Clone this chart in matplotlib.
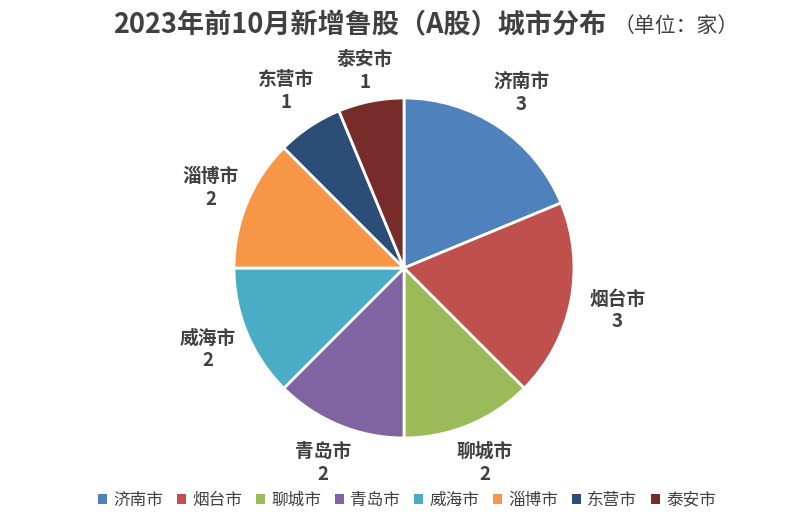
import matplotlib
matplotlib.use("Agg")
import numpy as np
import matplotlib.pyplot as plt
from matplotlib.patches import Patch

plt.rcParams['font.family'] = ['Noto Sans CJK SC', 'DejaVu Sans']

cities = ["济南市", "烟台市", "聊城市", "青岛市", "威海市", "淄博市", "东营市", "泰安市"]
counts = [3, 3, 2, 2, 2, 2, 1, 1]
colors = ["#4F81BD", "#C0504D", "#9BBB59", "#8064A2", "#4BACC6", "#F79646", "#2C4D75", "#772C2A"]
title_main = "2023年前10月新增鲁股（A股）城市分布"
title_unit = "（单位：家）"

label_dist = [1.24, 1.28, 1.24, 1.24, 1.25, 1.23, 1.25, 1.18]

W, H = 811, 529
fig = plt.figure(figsize=(W / 100, H / 100), dpi=100)
cx, cy, r = 404, 268, 170
ax = fig.add_axes([(cx - r) / W, (H - cy - r) / H, 2 * r / W, 2 * r / H])
labels = [f"{c}\n{v}" for c, v in zip(cities, counts)]
wedges, texts = ax.pie(counts, colors=colors, startangle=90, counterclock=False,
                       labels=labels, labeldistance=1.25,
                       wedgeprops=dict(edgecolor="white", linewidth=2),
                       textprops=dict(fontsize=13.5, fontweight="bold", color="#404040",
                                      ha="center", va="center", linespacing=1.25))
for w, t, d in zip(wedges, texts, label_dist):
    ang = np.deg2rad((w.theta1 + w.theta2) / 2)
    t.set_position((d * np.cos(ang), d * np.sin(ang)))
    t.set_ha("center")
    t.set_va("center")
ax.set_xlim(-1, 1)
ax.set_ylim(-1, 1)
ax.set_aspect("equal")
ax.axis("off")

fig.text(606 / W, 1 - 25 / H, title_main, ha="right", va="center", fontsize=19.5,
         fontweight="bold", color="#404040")
fig.text(614 / W, 1 - 26 / H, title_unit, ha="left", va="center", fontsize=15,
         color="#404040")

handles = [Patch(facecolor=c, edgecolor="none") for c in colors]
fig.legend(handles, cities, loc="center", bbox_to_anchor=(0.502, 1 - 500 / H), ncol=8,
           frameon=False, fontsize=12, handlelength=0.55, handleheight=0.55,
           handletextpad=0.35, columnspacing=0.85,
           labelcolor="#404040")

fig.savefig("out.png", dpi=100)
